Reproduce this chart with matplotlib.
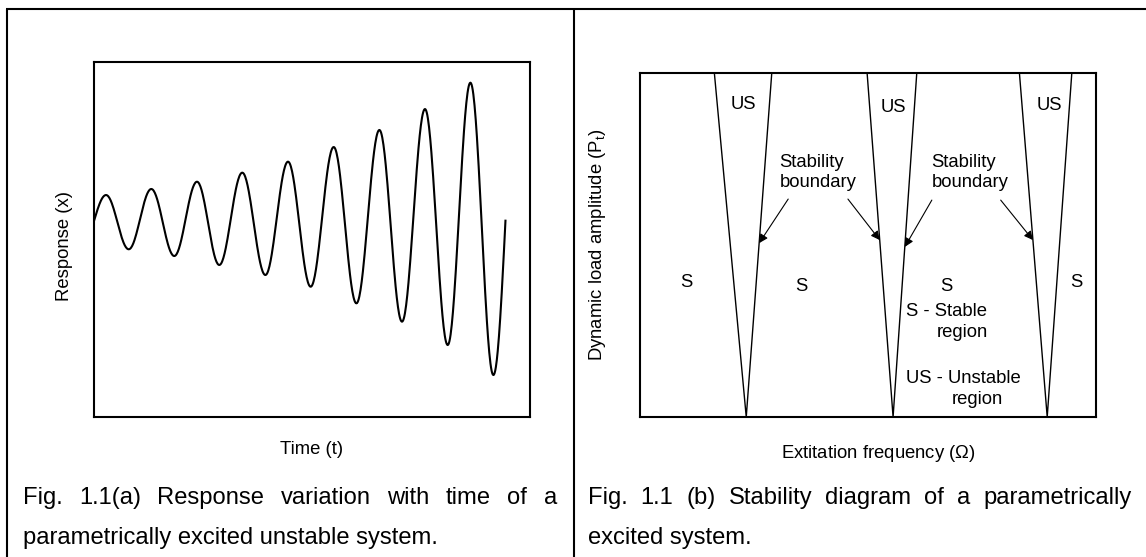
import numpy as np
import matplotlib
matplotlib.use("Agg")
import matplotlib.pyplot as plt
from matplotlib.lines import Line2D

plt.rcParams['font.family'] = ['Liberation Sans', 'DejaVu Sans']
plt.rcParams['mathtext.fontset'] = 'custom'
plt.rcParams['mathtext.rm'] = 'Liberation Sans'

W, H = 1146, 557

# (a) turning points of the growing response: start, peaks/troughs, end
t_turn = [0.0, 0.257, 0.755, 1.250, 1.754, 2.252, 2.741, 3.245, 3.752, 4.248,
          4.745, 5.250, 5.748, 6.252, 6.748, 7.252, 7.750, 8.248, 8.752, 9.017]
x_turn = [0.220, 0.501, -0.110, 0.569, -0.186, 0.651, -0.287, 0.753, -0.400, 0.877,
          -0.532, 1.042, -0.719, 1.234, -0.926, 1.470, -1.189, 1.767, -1.527, 0.212]

# (b) instability wedges: apex frequency and left/right edge at the top
wedge_apex = [0.233, 0.555, 0.893]
wedge_left = [0.163, 0.498, 0.832]
wedge_right = [0.289, 0.607, 0.947]

# region labels
us_pos = [(0.226, 0.909), (0.555, 0.900), (0.897, 0.906)]
s_pos = [(0.101, 0.392), (0.353, 0.378), (0.672, 0.378), (0.956, 0.392)]
# stability boundary call-outs: text centre, wedge index, side, arrow tail, tip height
sb_text = [(0.390, 0.710), (0.724, 0.710)]
arrows = [(0, 'right', (0.325, 0.633), 0.505),
          (1, 'left', (0.456, 0.633), 0.514),
          (1, 'right', (0.640, 0.630), 0.494),
          (2, 'left', (0.791, 0.630), 0.514)]

cap_a = ["Fig. 1.1(a) Response variation with time of a",
         "parametrically excited unstable system."]
cap_b = ["Fig. 1.1 (b) Stability diagram of a parametrically",
         "excited system."]

LBL = 13.3
CAP = 17.1

fig = plt.figure(figsize=(W / 100, H / 100), dpi=100)
fig.patch.set_facecolor("white")


def fx(px):
    return px / W


def fy(py):
    return 1 - py / H


# panel frame
frame = dict(color="black", lw=1.5, solid_capstyle="butt")
fig.add_artist(Line2D([fx(6), 1], [fy(9), fy(9)], **frame))
fig.add_artist(Line2D([fx(7), fx(7)], [fy(9), 0], **frame))
fig.add_artist(Line2D([fx(573.5), fx(573.5)], [fy(9), 0], **frame))

# ---- left: response vs time
ax1 = fig.add_axes([fx(94.3), fy(417), fx(530) - fx(94.3), fy(62) - fy(417)])
xs, ys = [], []
last = len(t_turn) - 2
for i in range(len(t_turn) - 1):
    s = np.linspace(0, 1, 40)
    if i == 0:
        shape = np.sin(np.pi / 2 * s)
    elif i == last:
        shape = 1 - np.cos(np.pi / 2 * s)
    else:
        shape = (1 - np.cos(np.pi * s)) / 2
    xs.append(t_turn[i] + (t_turn[i + 1] - t_turn[i]) * s)
    ys.append(x_turn[i] + (x_turn[i + 1] - x_turn[i]) * shape)
ax1.plot(np.concatenate(xs), np.concatenate(ys), color="black", lw=1.5)
ax1.set_xlim(0, 9.555)
ax1.set_ylim(-2, 2)
ax1.set_xticks([])
ax1.set_yticks([])
for sp in ax1.spines.values():
    sp.set_linewidth(1.5)
ax1.set_xlabel("Time (t)", fontsize=LBL, va="center")
ax1.xaxis.set_label_coords(0.499, -0.0915)
ax1.set_ylabel("Response (x)", fontsize=LBL, va="center")
ax1.yaxis.set_label_coords(-0.0695, 0.482)

# ---- right: stability diagram
ax2 = fig.add_axes([fx(640), fy(417), fx(1096) - fx(640), fy(72.7) - fy(417)])
for a, l, r in zip(wedge_apex, wedge_left, wedge_right):
    ax2.plot([l, a, r], [1, 0, 1], color="black", lw=1.0)
ax2.set_xlim(0, 1)
ax2.set_ylim(0, 1)
ax2.set_xticks([])
ax2.set_yticks([])
for sp in ax2.spines.values():
    sp.set_linewidth(1.5)

for x, y in us_pos:
    ax2.text(x, y, "US", fontsize=LBL, ha="center", va="center")
for x, y in s_pos:
    ax2.text(x, y, "S", fontsize=LBL, ha="center", va="center")
for x, y in sb_text:
    ax2.text(x, y, "Stability\nboundary", fontsize=LBL, ha="center", va="center",
             multialignment="left", linespacing=1.25)
for k, side, tail, h in arrows:
    edge = wedge_left[k] if side == "left" else wedge_right[k]
    tip_x = wedge_apex[k] + (edge - wedge_apex[k]) * h
    ax2.annotate("", xy=(tip_x, h), xytext=tail,
                 arrowprops=dict(arrowstyle="-|>", color="black", lw=0.8,
                                 mutation_scale=13, shrinkA=0, shrinkB=0))

ax2.text(0.583, 0.305, "S - Stable", fontsize=LBL, ha="left", va="center")
ax2.text(0.706, 0.244, "region", fontsize=LBL, ha="center", va="center")
ax2.text(0.583, 0.113, "US - Unstable", fontsize=LBL, ha="left", va="center")
ax2.text(0.739, 0.052, "region", fontsize=LBL, ha="center", va="center")

ax2.set_xlabel("Extitation frequency ($\\Omega$)", fontsize=LBL, va="center")
ax2.xaxis.set_label_coords(0.522, -0.1046)
ax2.set_ylabel("Dynamic load amplitude (P$_\\mathregular{t}$)", fontsize=LBL, va="center")
ax2.yaxis.set_label_coords(-0.094, 0.5)

# ---- captions, first line justified across the panel
renderer = fig.canvas.get_renderer()


def justified(line, x0, x1, y):
    words = line.split()
    items = [fig.text(0, fy(y), w, fontsize=CAP, va="baseline") for w in words]
    widths = [t.get_window_extent(renderer).width for t in items]
    gap = (x1 - x0 - sum(widths)) / (len(words) - 1)
    x = x0
    for t, w in zip(items, widths):
        t.set_x(fx(x))
        x += w + gap


justified(cap_a[0], 22.7, 557, 504)
fig.text(fx(22.7), fy(544), cap_a[1], fontsize=CAP, va="baseline")
justified(cap_b[0], 587.6, 1132, 504)
fig.text(fx(587.6), fy(544), cap_b[1], fontsize=CAP, va="baseline")

fig.savefig("out.png", dpi=100, facecolor="white")
